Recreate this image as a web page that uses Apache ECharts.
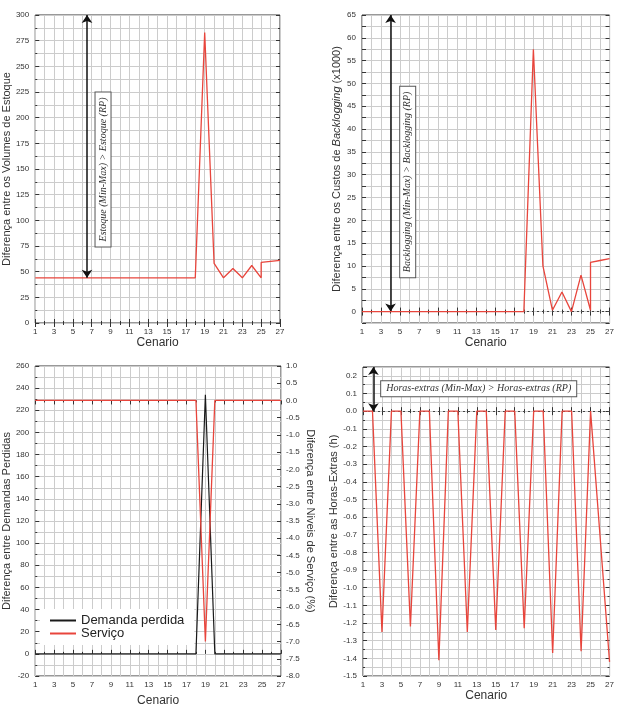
<!DOCTYPE html>
<html>
<head>
<meta charset="utf-8">
<script src="https://cdn.jsdelivr.net/npm/echarts@6/dist/echarts.min.js"></script>
<style>
  html, body { margin: 0; padding: 0; background: #fff; }
  #chart { width: 617px; height: 713px; }
</style>
</head>
<body>
<div id="chart"></div>
<script>
// cenarios (x) and values
var estoqueX = [1, 2, 3, 4, 5, 6, 7, 8, 9, 10, 11, 12, 13, 14, 15, 16, 17, 18, 19, 20, 21, 22, 23, 24, 25, 25, 26, 27];
var estoqueY = [44, 44, 44, 44, 44, 44, 44, 44, 44, 44, 44, 44, 44, 44, 44, 44, 44, 44, 283, 58, 44, 53, 44, 56, 44, 59, 60, 61];

var backlogX = [1, 2, 3, 4, 5, 6, 7, 8, 9, 10, 11, 12, 13, 14, 15, 16, 17, 18, 19, 20, 21, 22, 23, 24, 25, 25, 26, 27];
var backlogY = [0, 0, 0, 0, 0, 0, 0, 0, 0, 0, 0, 0, 0, 0, 0, 0, 0, 0, 57.5, 10, 0.3, 4.3, 0, 8, 0.3, 10.8, 11.2, 11.6];

var cenarios = [1, 2, 3, 4, 5, 6, 7, 8, 9, 10, 11, 12, 13, 14, 15, 16, 17, 18, 19, 20, 21, 22, 23, 24, 25, 26, 27];
var demandaPerdida = [0, 0, 0, 0, 0, 0, 0, 0, 0, 0, 0, 0, 0, 0, 0, 0, 0, 0, 234, 0, 0, 0, 0, 0, 0, 0, 0];
var servico = [0, 0, 0, 0, 0, 0, 0, 0, 0, 0, 0, 0, 0, 0, 0, 0, 0, 0, -7.0, 0, 0, 0, 0, 0, 0, 0, 0];
var horasExtras = [0, 0, -1.25, 0, 0, -1.22, 0, 0, -1.41, 0, 0, -1.25, 0, 0, -1.24, 0, 0, -1.23, 0, 0, -1.37, 0, 0, -1.36, 0, -0.71, -1.42];

var RED = "#e8453c";
var DARK = "#333";
var SANS = "Liberation Sans, Arial, sans-serif";
var SERIF = "Liberation Serif, DejaVu Serif, serif";

function pairs(xs, ys) {
  return xs.map(function (x, i) { return [x, ys[i]]; });
}

var grids = [
  { left: 31, top: 15, width: 249, height: 308 },
  { left: 362, top: 15, width: 250, height: 308 },
  { left: 31, top: 366, width: 250, height: 310 },
  { left: 363, top: 367, width: 249, height: 309 },
];
grids.forEach(function (g) {
  g.show = true;
  g.borderColor = DARK;
  g.borderWidth = 1;
  g.backgroundColor = "transparent";
});

function xBottom(gi, gap) {
  return {
    type: "value", gridIndex: gi, min: 1, max: 27, interval: 2,
    name: "Cenario", nameLocation: "middle", nameGap: gap,
    nameTextStyle: { fontFamily: SANS, fontSize: 12, color: DARK },
    axisLine: { show: false },
    axisTick: { inside: true, length: 4, lineStyle: { color: DARK } },
    minorTick: { show: true, splitNumber: 2, length: 2, lineStyle: { color: DARK } },
    axisLabel: { fontFamily: SANS, fontSize: 8, color: DARK, margin: 5 },
    splitLine: { show: true, lineStyle: { color: "#cccccc", width: 1 } },
    minorSplitLine: { show: true, lineStyle: { color: "#cccccc", width: 1 } },
  };
}
function xTop(gi) {
  return {
    type: "value", gridIndex: gi, position: "top", min: 1, max: 27, interval: 2,
    axisLine: { show: false },
    axisTick: { inside: true, length: 4, lineStyle: { color: DARK } },
    minorTick: { show: true, splitNumber: 2, length: 2, lineStyle: { color: DARK } },
    axisLabel: { show: false },
    splitLine: { show: false },
  };
}
function yLeft(gi, min, max, interval, name, gap, fmt, minor) {
  return {
    type: "value", gridIndex: gi, min: min, max: max, interval: interval,
    name: name, nameLocation: "middle", nameGap: gap,
    nameTextStyle: { fontFamily: SANS, fontSize: 11, color: DARK,
      rich: { n: { fontFamily: SANS, fontSize: 11, color: DARK },
              i: { fontFamily: SANS, fontSize: 11, color: DARK, fontStyle: "italic" } } },
    axisLine: { show: false },
    axisTick: { inside: true, length: 4, lineStyle: { color: DARK } },
    minorTick: { show: minor, splitNumber: 2, length: 2, lineStyle: { color: DARK } },
    axisLabel: { fontFamily: SANS, fontSize: 8, color: DARK, margin: 6, formatter: fmt },
    splitLine: { show: true, lineStyle: { color: "#cccccc", width: 1 } },
    minorSplitLine: { show: minor, lineStyle: { color: "#cccccc", width: 1 } },
  };
}
function yRight(gi, min, max, interval, minor) {
  return {
    type: "value", gridIndex: gi, position: "right", min: min, max: max, interval: interval,
    axisLine: { show: false },
    axisTick: { inside: true, length: 4, lineStyle: { color: DARK } },
    minorTick: { show: minor, splitNumber: 2, length: 2, lineStyle: { color: DARK } },
    axisLabel: { show: false },
    splitLine: { show: false },
  };
}

var fmtInt = function (v) { return String(Math.round(v)); };
var fmtBack = function (v) {
  var r = Math.round(v * 10) / 10;
  if (r < 0 || Math.abs(r % 5) > 1e-6) return "";
  return String(r);
};
var fmtOne = function (v) {
  if (v > 0.21) return "";
  var r = Math.round(v * 10) / 10;
  if (Math.abs(r) < 1e-9) r = 0;
  return r.toFixed(1);
};

function boxLabel(text, rotate) {
  return {
    show: true, position: "inside", rotate: rotate, formatter: text,
    fontFamily: SERIF, fontStyle: "italic", fontSize: 10, color: DARK,
    backgroundColor: "#fff", borderColor: "#555", borderWidth: 1,
    padding: [3, 5, 2, 5],
  };
}

var arrowLine = { color: "#111", width: 1.5, type: "solid" };
var zeroLine = { color: "#444", width: 1, type: [2, 3] };

var option = {
  animation: false,
  backgroundColor: "#fff",
  grid: grids,
  xAxis: [
    xBottom(0, 13), xBottom(1, 13), xBottom(2, 19), xBottom(3, 13),
    xTop(0), xTop(1), xTop(2), xTop(3),
  ],
  yAxis: [
    yLeft(0, 0, 300, 25, "Diferença entre os Volumes de Estoque", 21, fmtInt, true),
    yLeft(1, -2.5, 65, 2.5, "{n|Diferença entre os Custos de }{i|Backlogging}{n| (x1000)}", 20, fmtBack, false),
    yLeft(2, -20, 260, 20, "Diferença entre Demandas Perdidas", 21, fmtInt, true),
    {
      type: "value", gridIndex: 2, position: "right", min: -8, max: 1, interval: 0.5,
      name: "Diferença entre Niveis de Serviço (%)", nameLocation: "middle", nameGap: 24,
      nameRotate: -90,
      nameTextStyle: { fontFamily: SANS, fontSize: 11, color: DARK },
      axisLine: { show: false },
      axisTick: { inside: true, length: 4, lineStyle: { color: DARK } },
      axisLabel: { fontFamily: SANS, fontSize: 8, color: DARK, margin: 5, formatter: function (v) {
        var r = Math.round(v * 10) / 10; if (Math.abs(r) < 1e-9) r = 0; return r.toFixed(1); } },
      splitLine: { show: false },
    },
    yLeft(3, -1.5, 0.25, 0.1, "Diferença entre as Horas-Extras (h)", 23, fmtOne, true),
    yRight(0, 0, 300, 25, true),
    yRight(1, -2.5, 65, 2.5, false),
    yRight(3, -1.5, 0.25, 0.1, true),
  ],
  legend: {
    left: 40, top: 609, orient: "vertical", itemGap: 0,
    padding: [5, 10, 5, 10],
    backgroundColor: "#fff", z: 10,
    itemWidth: 26, itemHeight: 2, icon: "rect",
    textStyle: { fontFamily: SANS, fontSize: 13, color: "#222" },
    data: ["Demanda perdida", "Serviço"],
  },
  series: [
    {
      type: "line", xAxisIndex: 0, yAxisIndex: 0, showSymbol: false,
      data: pairs(estoqueX, estoqueY),
      lineStyle: { color: RED, width: 1.3 }, itemStyle: { color: RED },
      markLine: {
        silent: true, symbol: ["arrow", "arrow"], symbolSize: 8,
        label: { show: false }, lineStyle: arrowLine,
        data: [[{ coord: [6.5, 300] }, { coord: [6.5, 44] }]],
      },
      markPoint: {
        silent: true, symbolSize: 1, itemStyle: { color: "transparent" },
        data: [{ coord: [8.2, 149], label: boxLabel("Estoque (Min-Max) > Estoque (RP)", 90) }],
      },
    },
    {
      type: "line", xAxisIndex: 1, yAxisIndex: 1, showSymbol: false, z: 5,
      data: pairs(backlogX, backlogY),
      lineStyle: { color: RED, width: 1.3 }, itemStyle: { color: RED },
      markLine: {
        silent: true, z: 1, symbol: ["arrow", "arrow"], symbolSize: 8,
        label: { show: false }, lineStyle: arrowLine,
        data: [
          [{ coord: [4, 65] }, { coord: [4, 0] }],
          [{ coord: [1, 0], symbol: "none", lineStyle: zeroLine }, { coord: [27, 0], symbol: "none" }],
        ],
      },
      markPoint: {
        silent: true, z: 6, symbolSize: 1, itemStyle: { color: "transparent" },
        data: [{ coord: [5.8, 28.3], label: boxLabel("Backlogging (Min-Max) > Backlogging (RP)", 90) }],
      },
    },
    {
      name: "Demanda perdida", type: "line", xAxisIndex: 2, yAxisIndex: 2, showSymbol: false,
      data: pairs(cenarios, demandaPerdida),
      lineStyle: { color: "#1a1a1a", width: 1.2 }, itemStyle: { color: "#1a1a1a" },
    },
    {
      name: "Serviço", type: "line", xAxisIndex: 2, yAxisIndex: 3, showSymbol: false,
      data: pairs(cenarios, servico),
      lineStyle: { color: RED, width: 1.3 }, itemStyle: { color: RED },
    },
    {
      type: "line", xAxisIndex: 3, yAxisIndex: 4, showSymbol: false, z: 5,
      data: pairs(cenarios, horasExtras),
      lineStyle: { color: RED, width: 1.3 }, itemStyle: { color: RED },
      markLine: {
        silent: true, z: 1, symbol: ["arrow", "arrow"], symbolSize: 8,
        label: { show: false }, lineStyle: arrowLine,
        data: [
          [{ coord: [2.1, 0.25] }, { coord: [2.1, 0] }],
          [{ coord: [1, 0], symbol: "none", lineStyle: zeroLine }, { coord: [27, 0], symbol: "none" }],
        ],
      },
      markPoint: {
        silent: true, z: 6, symbolSize: 1, itemStyle: { color: "transparent" },
        data: [{ coord: [13.2, 0.124], label: boxLabel("Horas-extras (Min-Max) > Horas-extras (RP)", 0) }],
      },
    },
  ],
};

var myChart = echarts.init(document.getElementById("chart"));
myChart.setOption(option);
</script>
</body>
</html>
